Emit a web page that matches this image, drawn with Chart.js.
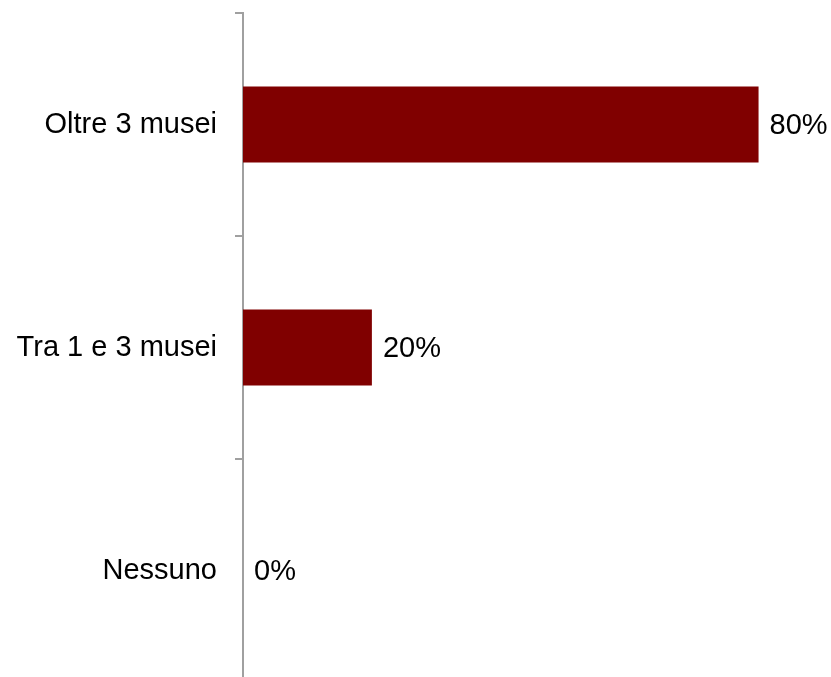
<!DOCTYPE html>
<html>
<head>
<meta charset="utf-8">
<script src="https://cdn.jsdelivr.net/npm/chart.js@4/dist/chart.umd.min.js"></script>
<style>
  html, body { margin: 0; padding: 0; background: #fff; overflow: hidden; }
  #wrap { position: relative; width: 831px; height: 682px; }
</style>
</head>
<body>
<div id="wrap"><canvas id="musei"></canvas></div>
<script>
// Quanti musei visitati
const categories = ['Oltre 3 musei', 'Tra 1 e 3 musei', 'Nessuno'];
const values = [80, 20, 0];
const valueLabels = ['80%', '20%', '0%'];

const barColor = '#800000';
const axisColor = '#a0a0a0';
const fontFamily = '"Liberation Sans", Arial, sans-serif';

// writes the percentage just to the right of each bar
const barValues = {
    id: 'barValues',
    afterDatasetsDraw(chart) {
        const ctx = chart.ctx;
        const meta = chart.getDatasetMeta(0);
        ctx.save();
        ctx.font = '29px ' + fontFamily;
        ctx.fillStyle = '#000';
        ctx.textAlign = 'left';
        ctx.textBaseline = 'middle';
        meta.data.forEach((bar, i) => {
            ctx.fillText(valueLabels[i], bar.x + 11, bar.y + 1);
        });
        ctx.restore();
    }
};

new Chart(document.getElementById('musei'), {
    type: 'bar',
    data: {
        labels: categories,
        datasets: [{
            data: values,
            backgroundColor: barColor,
            borderWidth: 0,
            categoryPercentage: 1,
            barPercentage: 0.34
        }]
    },
    options: {
        indexAxis: 'y',
        responsive: true,
        maintainAspectRatio: false,
        animation: false,
        layout: { padding: { top: 13, right: 8, bottom: 0, left: 0 } },
        plugins: {
            legend: { display: false },
            tooltip: { enabled: false }
        },
        scales: {
            x: {
                display: false,
                min: 0,
                max: 90
            },
            y: {
                offset: true,
                grid: {
                    offset: true,
                    drawOnChartArea: false,
                    drawTicks: true,
                    tickLength: 8,
                    color: axisColor,
                    lineWidth: 2
                },
                border: { color: axisColor, width: 2 },
                ticks: {
                    color: '#000',
                    padding: 18,
                    font: { family: fontFamily, size: 29 }
                },
                afterFit(scale) {
                    scale.width = 243;
                    // labels sit inside their bands, no extra room above/below
                    scale.paddingTop = 0;
                    scale.paddingBottom = 0;
                }
            }
        }
    },
    plugins: [barValues]
});
</script>
</body>
</html>
